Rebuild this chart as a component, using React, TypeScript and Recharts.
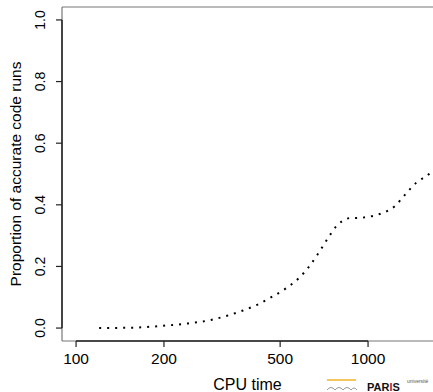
import { LineChart, Line, XAxis, YAxis, ReferenceLine } from "recharts";

const cpuTime = [120, 154, 199, 242, 292, 329, 373, 420, 470, 524, 579, 630, 678, 726, 781, 819, 868, 924, 985, 1111, 1237, 1342, 1463, 1618, 1669];
const proportion = [0, 0.001, 0.0075, 0.015, 0.027, 0.04, 0.057, 0.077, 0.102, 0.129, 0.162, 0.201, 0.245, 0.289, 0.332, 0.348, 0.357, 0.357, 0.36, 0.372, 0.396, 0.434, 0.472, 0.5, 0.512];
const xTicks = [100, 200, 500, 1000];
const yTicks = [0, 0.2, 0.4, 0.6, 0.8, 1.0];

const xDomain = [89.5, 1669];
const yDomain = [-0.042, 1.042];

const data = cpuTime.map((t, i) => ({ t, p: proportion[i] }));

const font = "'Liberation Sans', Arial, sans-serif";
const boxColor = "#777";
const axisColor = "#222";

function XTick(props: any) {
  const { x, y, payload } = props;
  return (
    <text x={x} y={y + 15} textAnchor="middle" fontSize={15.5} fontFamily={font} fill="#000">
      {payload.value}
    </text>
  );
}

function YTick(props: any) {
  const { x, y, payload } = props;
  const bx = x - 9;
  return (
    <text x={bx} y={y} transform={`rotate(-90, ${bx}, ${y})`} textAnchor="middle" fontSize={14} fontFamily={font} fill="#000">
      {Number(payload.value).toFixed(1)}
    </text>
  );
}

export default function App() {
  return (
    <div style={{ position: "absolute", left: 0, top: 0, width: 433, height: 392, background: "#fff", overflow: "hidden" }}>
      <LineChart width={433} height={392} data={data} margin={{ top: 7, right: 0, bottom: 0, left: 0 }}>
        <XAxis
          dataKey="t"
          type="number"
          scale="log"
          domain={xDomain}
          allowDataOverflow
          ticks={xTicks}
          height={51}
          axisLine={false}
          tickLine={{ stroke: axisColor, strokeWidth: 1.2 }}
          tickSize={6}
          tick={<XTick />}
          label={{
            content: (p: any) => {
              const vb = p.viewBox;
              return (
                <text x={vb.x + vb.width / 2} y={390} textAnchor="middle" fontSize={16} fontFamily={font} fill="#000">
                  CPU time
                </text>
              );
            },
          }}
        />
        <YAxis
          type="number"
          domain={yDomain}
          allowDataOverflow
          ticks={yTicks}
          width={62}
          axisLine={false}
          tickLine={{ stroke: axisColor, strokeWidth: 1.2 }}
          tickSize={6}
          tick={<YTick />}
          label={{
            content: (p: any) => {
              const vb = p.viewBox;
              const cy = vb.y + vb.height / 2;
              return (
                <text x={21} y={cy} transform={`rotate(-90, 21, ${cy})`} textAnchor="middle" fontSize={15.5} fontFamily={font} fill="#000">
                  Proportion of accurate code runs
                </text>
              );
            },
          }}
        />
        <ReferenceLine y={yDomain[1]} stroke={boxColor} strokeWidth={1.2} />
        <ReferenceLine y={yDomain[0]} stroke={boxColor} strokeWidth={1.2} />
        <ReferenceLine x={xDomain[0]} stroke={boxColor} strokeWidth={1.2} />
        <ReferenceLine
          segment={[{ x: xTicks[0], y: yDomain[0] }, { x: xTicks[xTicks.length - 1], y: yDomain[0] }]}
          stroke={axisColor}
          strokeWidth={1.5}
        />
        <ReferenceLine
          segment={[{ x: xDomain[0], y: yTicks[0] }, { x: xDomain[0], y: yTicks[yTicks.length - 1] }]}
          stroke={axisColor}
          strokeWidth={1.5}
        />
        <Line
          dataKey="p"
          type="monotone"
          stroke="#000"
          strokeWidth={2}
          strokeDasharray="2 6"
          dot={false}
          isAnimationActive={false}
        />
      </LineChart>
      <svg width={110} height={18} style={{ position: "absolute", left: 323, top: 374 }}>
        <line x1={4} y1={6} x2={33} y2={6} stroke="#f0b429" strokeWidth={1.5} />
        <path d="M4 16 q4 -5 8 0 q4 -5 8 0 q4 -5 8 0 q3 -4 6 0" fill="none" stroke="#999" strokeWidth={1} />
        <text x={84} y={9} fontSize={5} fontFamily={font} fill="#555">université</text>
        <text x={44} y={17} fontSize={11} fontWeight="bold" fontFamily={font} fill="#111">
          PAR<tspan fill="#c8102e">I</tspan>S
        </text>
      </svg>
    </div>
  );
}
